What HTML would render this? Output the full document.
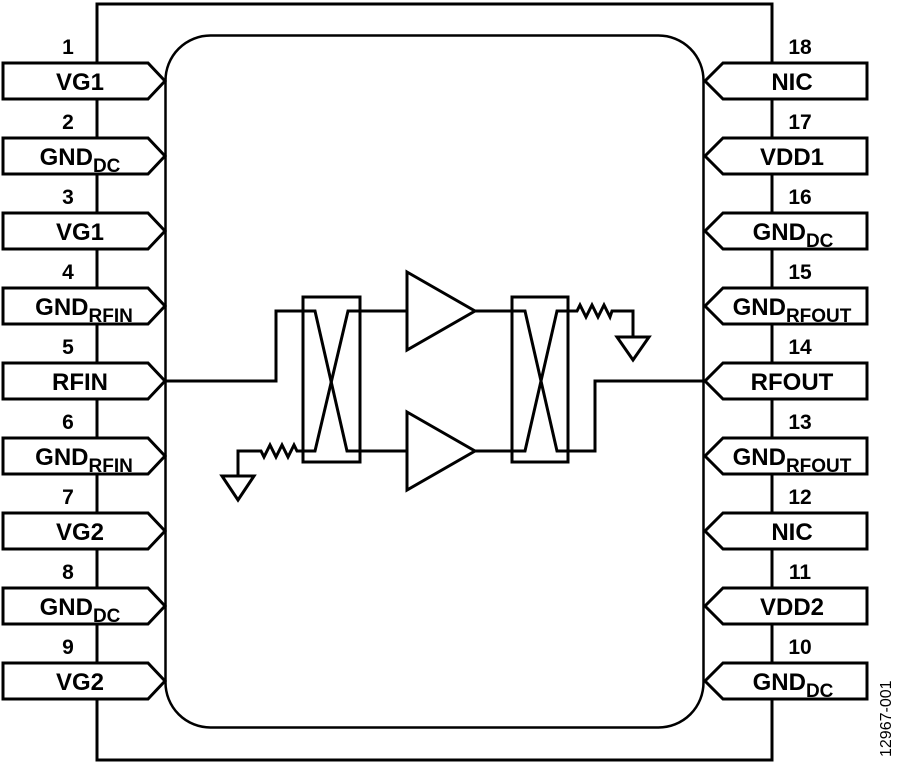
<!DOCTYPE html>
<html><head><meta charset="utf-8"><style>
html,body{margin:0;padding:0;background:#fff;width:900px;height:766px;overflow:hidden}
svg text{font-family:"Liberation Sans",Arial,sans-serif;font-weight:bold;fill:#000}
</style></head><body>
<svg width="900" height="766" viewBox="0 0 900 766" xmlns="http://www.w3.org/2000/svg">
<g fill="none" stroke="#000" stroke-width="3">
<path d="M97,760 V4 H772 V760 Z"/>
</g>
<rect x="165.5" y="35.5" width="538" height="692" rx="45" ry="45" fill="#fff" stroke="#000" stroke-width="2.5"/>
<g stroke="#000" stroke-width="3" fill="#fff" stroke-linejoin="miter">
<path d="M3,63 H148 L165,81 L148,99 H3 Z"/>
<path d="M3,138 H148 L165,156 L148,174 H3 Z"/>
<path d="M3,213 H148 L165,231 L148,249 H3 Z"/>
<path d="M3,288 H148 L165,306 L148,324 H3 Z"/>
<path d="M3,363 H148 L165,381 L148,399 H3 Z"/>
<path d="M3,438 H148 L165,456 L148,474 H3 Z"/>
<path d="M3,513 H148 L165,531 L148,549 H3 Z"/>
<path d="M3,588 H148 L165,606 L148,624 H3 Z"/>
<path d="M3,663 H148 L165,681 L148,699 H3 Z"/>
<path d="M867,63 H723 L705,81 L723,99 H867 Z"/>
<path d="M867,138 H723 L705,156 L723,174 H867 Z"/>
<path d="M867,213 H723 L705,231 L723,249 H867 Z"/>
<path d="M867,288 H723 L705,306 L723,324 H867 Z"/>
<path d="M867,363 H723 L705,381 L723,399 H867 Z"/>
<path d="M867,438 H723 L705,456 L723,474 H867 Z"/>
<path d="M867,513 H723 L705,531 L723,549 H867 Z"/>
<path d="M867,588 H723 L705,606 L723,624 H867 Z"/>
<path d="M867,663 H723 L705,681 L723,699 H867 Z"/>
</g>
<g fill="none" stroke="#000" stroke-width="3">
<rect x="303" y="297" width="57" height="165"/>
<rect x="512" y="297" width="56" height="165"/>
<path d="M166,381 H276 V311 H315 L347,451 H360 H407"/>
<path d="M360,311 H348 L315,451 H297 L294,445 L288,457 L282,445 L276,457 L270,445 L264,457 L261,451 H238 V476"/>
<path d="M222,476 H254 L238,500 Z"/>
<path d="M360,311 H407"/>
<path d="M407,272 L475,311 L407,350 Z"/>
<path d="M407,412 L475,451 L407,490 Z"/>
<path d="M475,311 H525 L557,451 H595 V381 H705"/>
<path d="M475,451 H525 L557,311 H577 L580,305 L586,317 L592,305 L598,317 L604,305 L610,317 L612,311 H633 V337"/>
<path d="M617,337 H649 L633,360 Z"/>
</g>
<g font-size="21" text-anchor="middle">
<text x="68" y="54">1</text><text x="68" y="129">2</text><text x="68" y="204">3</text>
<text x="68" y="279">4</text><text x="68" y="354">5</text><text x="68" y="429">6</text>
<text x="68" y="504">7</text><text x="68" y="579">8</text><text x="68" y="654">9</text>
<text x="800" y="54">18</text><text x="800" y="129">17</text><text x="800" y="204">16</text>
<text x="800" y="279">15</text><text x="800" y="354">14</text><text x="800" y="429">13</text>
<text x="800" y="504">12</text><text x="800" y="579">11</text><text x="800" y="654">10</text>
</g>
<g font-size="24" text-anchor="middle">
<text x="80" y="90">VG1</text>
<text x="80" y="165">GND<tspan font-size="19" dy="7">DC</tspan></text>
<text x="80" y="240">VG1</text>
<text x="84" y="315">GND<tspan font-size="19" dy="7">RFIN</tspan></text>
<text x="80" y="390">RFIN</text>
<text x="84" y="465">GND<tspan font-size="19" dy="7">RFIN</tspan></text>
<text x="80" y="540">VG2</text>
<text x="80" y="615">GND<tspan font-size="19" dy="7">DC</tspan></text>
<text x="80" y="690">VG2</text>
<text x="792" y="90">NIC</text>
<text x="792" y="165">VDD1</text>
<text x="793" y="240">GND<tspan font-size="19" dy="7">DC</tspan></text>
<text x="792" y="315">GND<tspan font-size="19" dy="7">RFOUT</tspan></text>
<text x="792" y="390">RFOUT</text>
<text x="792" y="465">GND<tspan font-size="19" dy="7">RFOUT</tspan></text>
<text x="792" y="540">NIC</text>
<text x="792" y="615">VDD2</text>
<text x="793" y="690">GND<tspan font-size="19" dy="7">DC</tspan></text>
</g>
<text x="0" y="0" font-size="16" style="font-weight:normal" transform="translate(891,757) rotate(-90)">12967-001</text>
</svg>
</body></html>
